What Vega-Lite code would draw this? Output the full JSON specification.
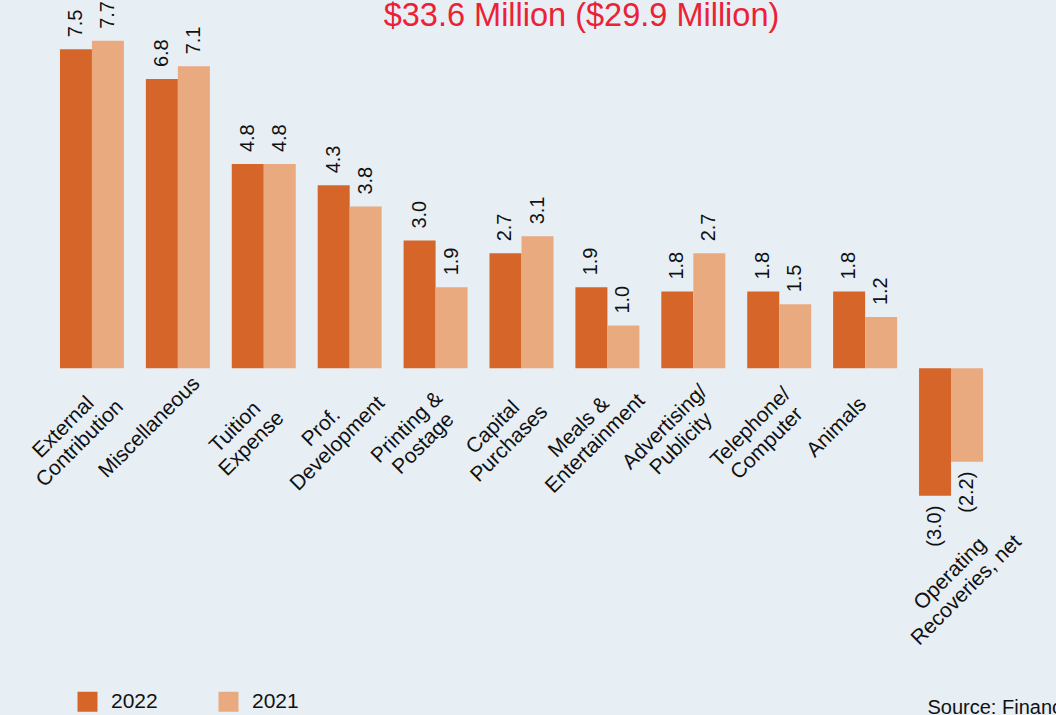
{
  "$schema": "https://vega.github.io/schema/vega-lite/v6.json",
  "autosize": {"type": "none"},
  "width": 1009,
  "height": 715,
  "padding": {"left": 17, "right": 30, "top": 0, "bottom": 0},
  "background": "#e7eff5",
  "title": {
    "text": "$33.6 Million ($29.9 Million)",
    "font": "Liberation Sans",
    "fontSize": 32.5,
    "fontWeight": "normal",
    "color": "#ec2136",
    "anchor": "middle",
    "frame": "group",
    "dx": 60,
    "dy": 58,
    "baseline": "alphabetic",
    "offset": 0
  },
  "data": {
    "values": [
      {"category": "External\nContribution", "year": "2022", "value": 7.5},
      {"category": "External\nContribution", "year": "2021", "value": 7.7},
      {"category": "Miscellaneous", "year": "2022", "value": 6.8},
      {"category": "Miscellaneous", "year": "2021", "value": 7.1},
      {"category": "Tuition\nExpense", "year": "2022", "value": 4.8},
      {"category": "Tuition\nExpense", "year": "2021", "value": 4.8},
      {"category": "Prof.\nDevelopment", "year": "2022", "value": 4.3},
      {"category": "Prof.\nDevelopment", "year": "2021", "value": 3.8},
      {"category": "Printing &\nPostage", "year": "2022", "value": 3.0},
      {"category": "Printing &\nPostage", "year": "2021", "value": 1.9},
      {"category": "Capital\nPurchases", "year": "2022", "value": 2.7},
      {"category": "Capital\nPurchases", "year": "2021", "value": 3.1},
      {"category": "Meals &\nEntertainment", "year": "2022", "value": 1.9},
      {"category": "Meals &\nEntertainment", "year": "2021", "value": 1.0},
      {"category": "Advertising/\nPublicity", "year": "2022", "value": 1.8},
      {"category": "Advertising/\nPublicity", "year": "2021", "value": 2.7},
      {"category": "Telephone/\nComputer", "year": "2022", "value": 1.8},
      {"category": "Telephone/\nComputer", "year": "2021", "value": 1.5},
      {"category": "Animals", "year": "2022", "value": 1.8},
      {"category": "Animals", "year": "2021", "value": 1.2},
      {"category": "Operating\nRecoveries, net", "year": "2022", "value": -3.0},
      {"category": "Operating\nRecoveries, net", "year": "2021", "value": -2.2}
    ]
  },
  "encoding": {
    "x": {
      "field": "category",
      "type": "nominal",
      "sort": null,
      "scale": {"paddingInner": 0.255, "paddingOuter": 0.5},
      "axis": {
        "labels": false,
        "ticks": false,
        "domain": false,
        "grid": false,
        "title": "Source: Financial Statements",
        "titleFont": "Liberation Sans",
        "titleFontSize": 20,
        "titleFontWeight": "normal",
        "titleColor": "#111111",
        "titleAlign": "left",
        "titleAnchor": "start",
        "titleBaseline": "alphabetic",
        "titleX": 910,
        "titleY": -2
      }
    }
  },
  "layer": [
    {
      "mark": {"type": "bar"},
      "encoding": {
        "xOffset": {"field": "year", "type": "nominal", "sort": ["2022", "2021"]},
        "y": {
          "field": "value",
          "type": "quantitative",
          "scale": {"domain": [-8.16, 8.66], "nice": false, "zero": false},
          "axis": null
        },
        "color": {
          "field": "year",
          "type": "nominal",
          "scale": {"domain": ["2022", "2021"], "range": ["#d6652a", "#e9aa80"]},
          "legend": {
            "title": null,
            "orient": "none",
            "direction": "horizontal",
            "legendX": 60,
            "legendY": 691,
            "symbolType": "square",
            "symbolSize": 400,
            "symbolStrokeWidth": 0,
            "labelFont": "Liberation Sans",
            "labelFontSize": 21,
            "labelColor": "#111111",
            "labelOffset": 13,
            "columnPadding": 60
          }
        }
      }
    },
    {
      "transform": [{"filter": "datum.value >= 0"}],
      "mark": {
        "type": "text",
        "angle": 270,
        "align": "left",
        "baseline": "middle",
        "dx": 12,
        "font": "Liberation Sans",
        "fontSize": 20,
        "color": "#111111"
      },
      "encoding": {
        "xOffset": {"field": "year", "type": "nominal", "sort": ["2022", "2021"]},
        "y": {"field": "value", "type": "quantitative"},
        "text": {"field": "value", "type": "quantitative", "format": ".1f"}
      }
    },
    {
      "transform": [
        {"filter": "datum.value < 0"},
        {"calculate": "'(' + format(-datum.value, '.1f') + ')'", "as": "neg"}
      ],
      "mark": {
        "type": "text",
        "angle": 270,
        "align": "right",
        "baseline": "middle",
        "dx": -10,
        "font": "Liberation Sans",
        "fontSize": 20,
        "color": "#111111"
      },
      "encoding": {
        "xOffset": {"field": "year", "type": "nominal", "sort": ["2022", "2021"]},
        "y": {"field": "value", "type": "quantitative"},
        "text": {"field": "neg", "type": "nominal"}
      }
    },
    {
      "transform": [
        {"aggregate": [{"op": "min", "field": "value", "as": "minv"}], "groupby": ["category"]},
        {"filter": "datum.minv >= 0"}
      ],
      "mark": {
        "type": "text",
        "angle": 315,
        "align": "center",
        "baseline": "middle",
        "lineBreak": "\n",
        "lineHeight": 23,
        "dx": -62,
        "dy": 22,
        "font": "Liberation Sans",
        "fontSize": 21,
        "color": "#111111"
      },
      "encoding": {
        "y": {"datum": 0},
        "text": {"field": "category", "type": "nominal"}
      }
    },
    {
      "transform": [
        {"aggregate": [{"op": "min", "field": "value", "as": "minv"}], "groupby": ["category"]},
        {"filter": "datum.minv < 0"}
      ],
      "mark": {
        "type": "text",
        "angle": 315,
        "align": "center",
        "baseline": "middle",
        "lineBreak": "\n",
        "lineHeight": 23,
        "dx": -56,
        "dy": 55,
        "font": "Liberation Sans",
        "fontSize": 21,
        "color": "#111111"
      },
      "encoding": {
        "y": {"field": "minv", "type": "quantitative"},
        "text": {"field": "category", "type": "nominal"}
      }
    }
  ],
  "config": {
    "view": {"stroke": null}
  }
}
